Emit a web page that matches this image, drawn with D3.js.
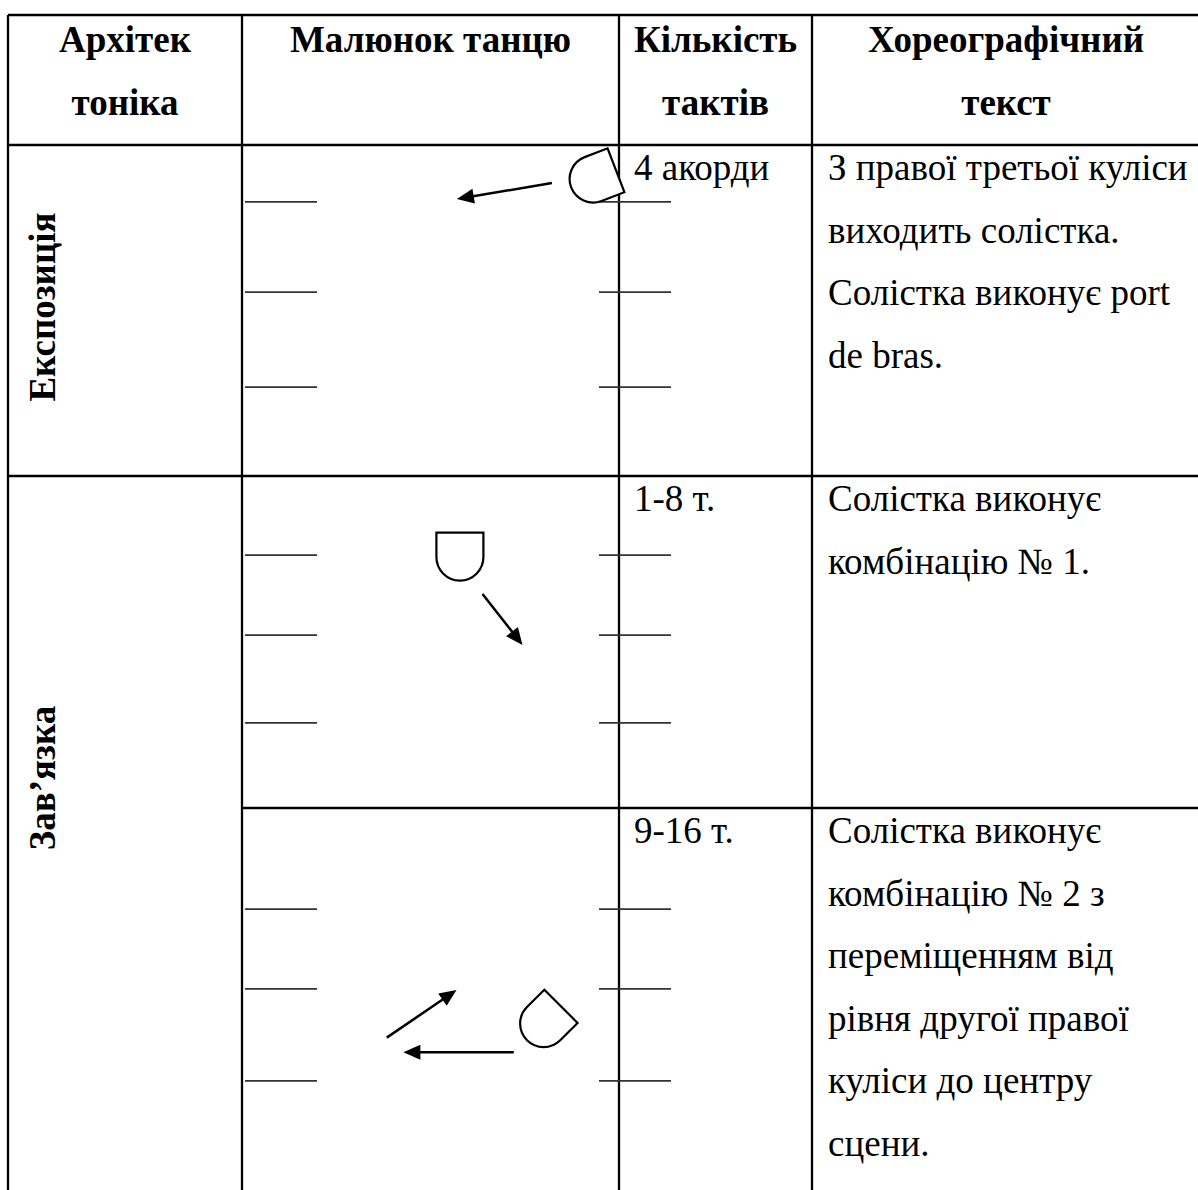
<!DOCTYPE html>
<html>
<head>
<meta charset="utf-8">
<script src="https://cdn.jsdelivr.net/npm/d3@7"></script>
<style>
body { margin: 0; background: #fff; }
text { font-family: "Liberation Serif", "Times New Roman", serif; fill: #000; }
</style>
</head>
<body>
<div id="vis"></div>
<script>
// ---- table content ----
var headers = [["Архітек", "тоніка"], ["Малюнок танцю"], ["Кількість", "тактів"], ["Хореографічний", "текст"]];
var sectionNames = ["Експозиція", "Зав’язка"];
var sectionSpans = [1, 2];
var barCounts = ["4 акорди", "1-8 т.", "9-16 т."];
var descriptions = [
  ["З правої третьої куліси", "виходить солістка.", "Солістка виконує port", "de bras."],
  ["Солістка виконує", "комбінацію № 1."],
  ["Солістка виконує", "комбінацію № 2 з", "переміщенням від", "рівня другої правої", "куліси до центру", "сцени."]
];

// ---- stage drawings (stage units, 0..100 across the drawing cell) ----
var wingLevels = [[15.1, 39.0, 64.2], [21.0, 42.2, 65.5], [26.8, 48.0, 72.4]];
var wingSpanLeft = [0.8, 19.9];
var wingSpanRight = [94.7, 113.8];
var dancers = [
  {x: 99.2, y: 6.7, turn: 69},
  {x: 57.8, y: 15.0, turn: 0},
  {x: 84.6, y: 52.6, turn: 45}
];
var arrows = [
  [{x1: 82.2, y1: 10.1, x2: 57.0, y2: 14.3}],
  [{x1: 63.8, y1: 31.3, x2: 74.4, y2: 44.8}],
  [{x1: 38.4, y1: 60.9, x2: 56.9, y2: 48.3}, {x1: 72.1, y1: 64.8, x2: 42.8, y2: 64.8}]
];

// ---- layout ----
var width = 1198, height = 1190;
var colX = [8, 242, 619, 812, 1200];
var tableTop = 15, headH = 130;
var rowH = [331, 332, 392];
var rowTops = [];
var acc = tableTop + headH;
rowH.forEach(function(h) { rowTops.push(acc); acc += h; });
var tableBottom = acc;
var sectionLabelY = [307, 778];
var lineGap = 62.6;

var svg = d3.select("#vis").append("svg")
    .attr("width", width)
    .attr("height", height);

// stage x scale shared by all rows
var sx = d3.scaleLinear().domain([0, 100]).range([colX[1], colX[2]]);
var unit = (colX[2] - colX[1]) / 100;

////////// grid //////////
var grid = svg.append("g").attr("stroke", "#000").attr("stroke-width", 2.3);

colX.forEach(function(x) {
  grid.append("line").attr("x1", x).attr("x2", x).attr("y1", tableTop).attr("y2", tableBottom);
});
grid.append("line").attr("x1", colX[0]).attr("x2", colX[4]).attr("y1", tableTop).attr("y2", tableTop);
grid.append("line").attr("x1", colX[0]).attr("x2", colX[4]).attr("y1", tableTop + headH).attr("y2", tableTop + headH);

// row separators: full width at section boundaries, otherwise from column 2
var rowIdx = 0;
sectionSpans.forEach(function(span) {
  for (var k = 0; k < span; k++) {
    var yb = rowTops[rowIdx] + rowH[rowIdx];
    var last = (k == span - 1);
    if (yb < height) {
      grid.append("line")
        .attr("x1", last ? colX[0] : colX[1]).attr("x2", colX[4])
        .attr("y1", yb).attr("y2", yb);
    }
    rowIdx++;
  }
});

////////// header //////////
headers.forEach(function(lines, i) {
  var cx = (colX[i] + colX[i + 1]) / 2;
  svg.append("g").selectAll("text")
    .data(lines)
    .enter()
    .append("text")
    .attr("x", cx)
    .attr("y", function(d, j) { return tableTop + 37 + j * 63; })
    .attr("text-anchor", "middle")
    .style("font-weight", "bold")
    .style("font-size", "37px")
    .text(function(d) { return d; });
});

////////// section labels (vertical) //////////
svg.selectAll(".section")
  .data(sectionNames)
  .enter()
  .append("text")
  .attr("class", "section")
  .attr("transform", function(d, i) { return "translate(55," + sectionLabelY[i] + ") rotate(-90)"; })
  .attr("text-anchor", "middle")
  .style("font-weight", "bold")
  .style("font-size", "37px")
  .text(function(d) { return d; });

////////// bar counts and descriptions //////////
svg.selectAll(".bars")
  .data(barCounts)
  .enter()
  .append("text")
  .attr("class", "bars")
  .attr("x", colX[2] + 15)
  .attr("y", function(d, i) { return rowTops[i] + 35; })
  .style("font-size", "37px")
  .text(function(d) { return d; });

descriptions.forEach(function(lines, i) {
  svg.append("g").selectAll("text")
    .data(lines)
    .enter()
    .append("text")
    .attr("x", colX[3] + 16)
    .attr("y", function(d, j) { return rowTops[i] + 35 + j * lineGap; })
    .style("font-size", "37px")
    .text(function(d) { return d; });
});

////////// stage drawings //////////
var dw = 23.5, side = 24.5;
var dancerPath = "M" + (-dw) + ",0L" + dw + ",0L" + dw + "," + side +
    "A" + dw + "," + dw + " 0 0 1 " + (-dw) + "," + side + "Z";

rowTops.forEach(function(rt, i) {
  var sy = d3.scaleLinear().domain([0, 100]).range([rt, rt + 100 * unit]);
  var stage = svg.append("g").attr("class", "stage");

  // wings
  stage.selectAll(".wingL")
    .data(wingLevels[i])
    .enter()
    .append("line")
    .attr("x1", sx(wingSpanLeft[0])).attr("x2", sx(wingSpanLeft[1]))
    .attr("y1", sy).attr("y2", sy)
    .attr("stroke", "#333").attr("stroke-width", 1.8);
  stage.selectAll(".wingR")
    .data(wingLevels[i])
    .enter()
    .append("line")
    .attr("x1", sx(wingSpanRight[0])).attr("x2", sx(wingSpanRight[1]))
    .attr("y1", sy).attr("y2", sy)
    .attr("stroke", "#333").attr("stroke-width", 1.8);

  // dancer
  var d = dancers[i];
  stage.append("path")
    .attr("d", dancerPath)
    .attr("transform", "translate(" + sx(d.x) + "," + sy(d.y) + ") rotate(" + d.turn + ")")
    .attr("fill", "#fff")
    .attr("stroke", "#000")
    .attr("stroke-width", 2.2);

  // arrows
  arrows[i].forEach(function(a) {
    var x1 = sx(a.x1), y1 = sy(a.y1), x2 = sx(a.x2), y2 = sy(a.y2);
    var ang = Math.atan2(y2 - y1, x2 - x1);
    var hl = 17, hw = 7.5;
    var bx = x2 - hl * Math.cos(ang), by = y2 - hl * Math.sin(ang);
    stage.append("line")
      .attr("x1", x1).attr("y1", y1).attr("x2", bx + 2 * Math.cos(ang)).attr("y2", by + 2 * Math.sin(ang))
      .attr("stroke", "#000").attr("stroke-width", 2.5);
    var pts = [
      [x2, y2],
      [bx - hw * Math.sin(ang), by + hw * Math.cos(ang)],
      [bx + hw * Math.sin(ang), by - hw * Math.cos(ang)]
    ];
    stage.append("polygon")
      .attr("points", pts.map(function(p) { return p.join(","); }).join(" "))
      .attr("fill", "#000");
  });
});
</script>
</body>
</html>
